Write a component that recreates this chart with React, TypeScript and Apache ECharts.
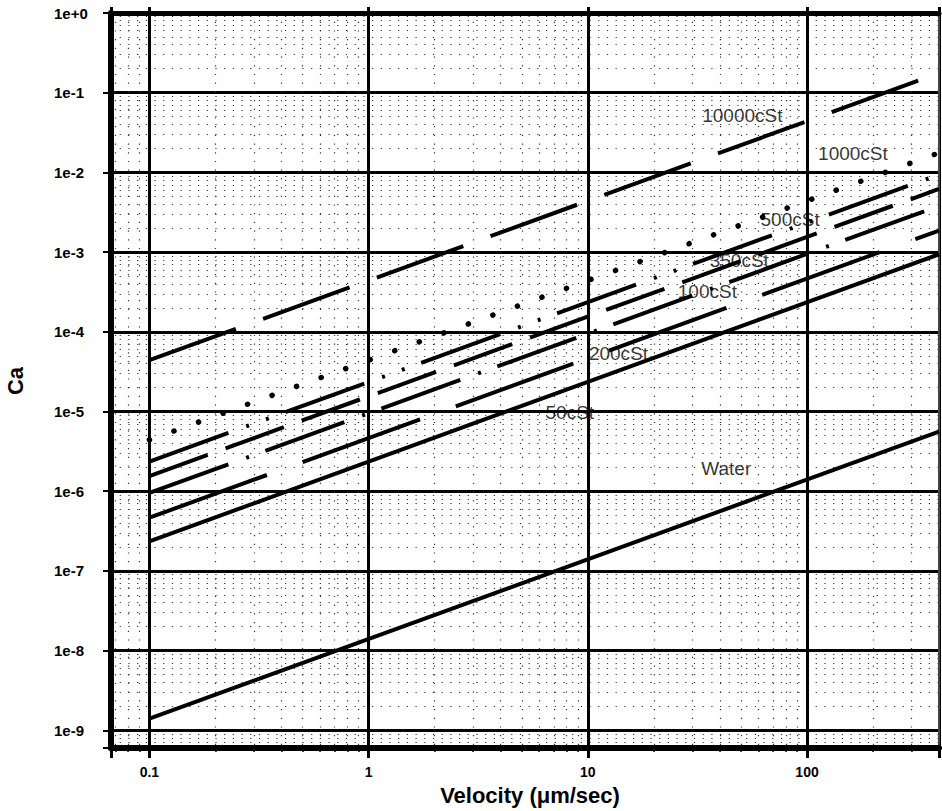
import React, { useEffect, useRef } from "react";
import * as echarts from "echarts";

// ---- data ----
const velocityMin = 0.0668;
const velocityMax = 400;
const caMin = 6e-10;
const caMax = 1;

const seriesNames = ["Water", "50cSt", "100cSt", "200cSt", "350cSt", "500cSt", "1000cSt", "10000cSt"];
const velocityEnds = [0.1, 400];
const caAtStart = [1.4e-9, 2.35e-7, 4.65e-7, 9.5e-7, 1.55e-6, 2.35e-6, 4.4e-6, 4.4e-5];
const caAtEnd = [5.6e-6, 9.4e-4, 1.86e-3, 3.8e-3, 6.2e-3, 9.4e-3, 1.76e-2, 0.176];

const labelTexts = ["10000cSt", "1000cSt", "500cSt", "350cSt", "100cSt", "200cSt", "50cSt", "Water"];
const labelVelocity = [50.7, 162, 83.7, 49.1, 35.1, 13.8, 8.28, 42.8];
const labelCa = [0.0525, 0.0175, 2.53e-3, 7.96e-4, 3.25e-4, 5.42e-5, 9.58e-6, 1.95e-6];

const xTitle = "Velocity (\u03bcm/sec)";
const yTitle = "Ca";

// ---- styles ----
const FONT = "'Liberation Sans', Arial, Helvetica, sans-serif";
const lineStyles: Record<string, any> = {
  Water: { type: "solid", width: 4, cap: "butt" },
  "50cSt": { type: "solid", width: 4, cap: "butt" },
  "100cSt": { type: [125, 38], width: 4, cap: "butt" },
  "200cSt": { type: [84, 19, 3, 17.4], width: 4, cap: "butt" },
  "350cSt": { type: [62, 19], width: 4, cap: "butt" },
  "500cSt": { type: [84, 19, 3, 18, 3, 17.6], width: 4, cap: "butt" },
  "1000cSt": { type: [0.1, 26], width: 5.5, cap: "round" },
  "10000cSt": { type: [92, 29], width: 4, cap: "butt" },
};

function isPow10(v: number) {
  const l = Math.log10(v);
  return Math.abs(l - Math.round(l)) < 1e-6;
}

export default function App() {
  const ref = useRef<HTMLDivElement>(null);
  useEffect(() => {
    document.body.style.margin = "0";
    const chart = echarts.init(ref.current!, undefined, { renderer: "svg" });

    const minorDotted = { show: true, lineStyle: { color: "#333", width: 1.2, type: [1.2, 7.5] } };

    const series: any[] = seriesNames.map((name, i) => ({
      name,
      type: "line",
      xAxisIndex: 0,
      yAxisIndex: 0,
      symbol: "none",
      silent: true,
      lineStyle: { color: "#000", ...lineStyles[name] },
      data: [
        [velocityEnds[0], caAtStart[i]],
        [velocityEnds[1], caAtEnd[i]],
      ],
      z: 3,
    }));

    series.push({
      name: "labels",
      type: "scatter",
      xAxisIndex: 0,
      yAxisIndex: 0,
      symbolSize: 0.01,
      silent: true,
      itemStyle: { color: "transparent" },
      label: {
        show: true,
        position: "inside",
        formatter: "{b}",
        color: "#000",
        textBorderWidth: 0,
        textBorderColor: "transparent",
        fontFamily: FONT,
        fontSize: 19,
      },
      data: labelTexts.map((t, i) => ({ name: t, value: [labelVelocity[i], labelCa[i]] })),
      z: 4,
    });

    const option: any = {
      animation: false,
      backgroundColor: "#fff",
      grid: { left: 111, right: 2, top: 13, bottom: 63 },
      xAxis: [
        {
          type: "log",
          logBase: 10,
          min: velocityMin,
          max: velocityMax,
          position: "bottom",
          splitNumber: 5,
          axisLine: { show: true, onZero: false, lineStyle: { color: "#000", width: 6 } },
          axisTick: { show: true, inside: false, length: 10, lineStyle: { color: "#000", width: 3 } },
          minorTick: { show: true, splitNumber: 9, length: 4, lineStyle: { color: "#000", width: 1.5 } },
          splitLine: { show: true, lineStyle: { color: "#000", width: 3 } },
          minorSplitLine: minorDotted,
          axisLabel: {
            show: true,
            margin: 17,
            color: "#000",
            fontFamily: FONT,
            fontWeight: "bold",
            fontSize: 14,
            formatter: (v: number) => (isPow10(v) ? String(+v.toPrecision(6)) : ""),
          },
        },
        {
          type: "log",
          logBase: 10,
          min: velocityMin,
          max: velocityMax,
          position: "top",
          splitNumber: 5,
          axisLine: { show: true, onZero: false, lineStyle: { color: "#000", width: 5 } },
          axisTick: { show: true, inside: false, length: 6, lineStyle: { color: "#000", width: 3 } },
          axisLabel: { show: false },
          splitLine: { show: false },
        },
      ],
      yAxis: [
        {
          type: "log",
          logBase: 10,
          min: caMin,
          max: caMax,
          position: "left",
          splitNumber: 10,
          axisLine: { show: true, onZero: false, lineStyle: { color: "#000", width: 6 } },
          axisTick: { show: true, inside: false, length: 8, lineStyle: { color: "#000", width: 2 } },
          minorTick: { show: true, splitNumber: 9, length: 3, lineStyle: { color: "#000", width: 1.5 } },
          splitLine: { show: true, lineStyle: { color: "#000", width: 3 } },
          minorSplitLine: minorDotted,
          axisLabel: {
            show: true,
            align: "left",
            margin: 57,
            color: "#000",
            fontFamily: FONT,
            fontWeight: "bold",
            fontSize: 15,
            formatter: (v: number) => {
              if (!isPow10(v)) return "";
              const e = Math.round(Math.log10(v));
              return e >= 0 ? "1e+" + e : "1e" + e;
            },
          },
        },
        {
          type: "log",
          logBase: 10,
          min: caMin,
          max: caMax,
          position: "right",
          splitNumber: 10,
          axisLine: { show: true, onZero: false, lineStyle: { color: "#444", width: 2 } },
          axisTick: { show: false },
          axisLabel: { show: false },
          splitLine: { show: false },
        },
      ],
      graphic: [
        {
          type: "text",
          x: 530,
          y: 795,
          style: {
            text: xTitle,
            fill: "#000",
            font: `bold 22px ${FONT}`,
            textAlign: "center",
            textVerticalAlign: "middle",
          },
        },
        {
          type: "text",
          x: 15,
          y: 381,
          rotation: Math.PI / 2,
          style: {
            text: yTitle,
            fill: "#000",
            font: `bold 22px ${FONT}`,
            textAlign: "center",
            textVerticalAlign: "middle",
          },
        },
      ],
      series,
    };

    chart.setOption(option);
    return () => chart.dispose();
  }, []);

  return <div ref={ref} style={{ width: 942, height: 811 }} />;
}
